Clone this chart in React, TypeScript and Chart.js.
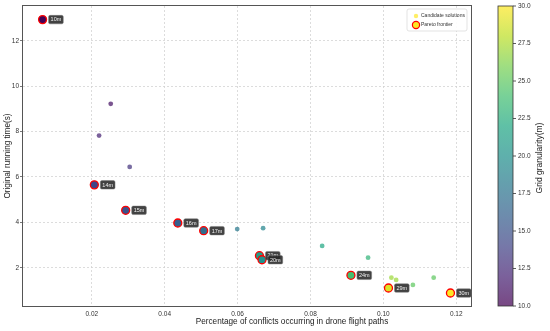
import React, { useEffect, useRef } from 'react';
import { Chart, registerables } from 'chart.js';

Chart.register(...registerables);

const FONT = '"Liberation Sans", Arial, Helvetica, sans-serif';

// Pareto frontier solutions
const paretoLabels = ['10m', '14m', '15m', '16m', '17m', '21m', '20m', '24m', '29m', '30m'];
const paretoGrid = [10, 14, 15, 16, 17, 21, 20, 24, 29, 30];
const paretoConflict = [0.0065, 0.0207, 0.0293, 0.0436, 0.0507, 0.066, 0.0667, 0.0911, 0.1014, 0.1184];
const paretoTime = [12.93, 5.65, 4.53, 3.97, 3.63, 2.53, 2.35, 1.665, 1.105, 0.885];

// Candidate solutions
const candGrid = [11, 12, 13, 18, 19, 22, 23, 27, 27, 25, 25];
const candConflict = [0.0252, 0.022, 0.0304, 0.0599, 0.067, 0.0832, 0.0958, 0.1022, 0.1035, 0.1081, 0.1138];
const candTime = [9.22, 7.82, 6.44, 3.7, 3.74, 2.96, 2.44, 1.56, 1.46, 1.24, 1.56];

const xTicks = [0.02, 0.04, 0.06, 0.08, 0.1, 0.12];
const yTicks = [2, 4, 6, 8, 10, 12];
const cbTicks = [10, 12.5, 15, 17.5, 20, 22.5, 25, 27.5, 30];

const X_TITLE = 'Percentage of conflicts occurring in drone flight paths';
const Y_TITLE = 'Original running time(s)';
const CB_TITLE = 'Grid granularity(m)';

const X_MIN = 0.00113;
const X_MAX = 0.12404;
const Y_MIN = 0.313;
const Y_MAX = 13.53;
const C_MIN = 10;
const C_MAX = 30;

const viridisStops = ['#440154', '#482475', '#414487', '#355f8d', '#2a788e', '#21918c', '#22a884', '#44bf70', '#7ad151', '#bddf26', '#fde725'];

function hexToRgb(h: string) {
  return [parseInt(h.slice(1, 3), 16), parseInt(h.slice(3, 5), 16), parseInt(h.slice(5, 7), 16)];
}

function viridis(t: number, a: number) {
  const tt = Math.max(0, Math.min(1, t));
  const p = tt * 10;
  const i = Math.min(9, Math.floor(p));
  const f = p - i;
  const c0 = hexToRgb(viridisStops[i]);
  const c1 = hexToRgb(viridisStops[i + 1]);
  const c = c0.map((v, k) => Math.round(v + (c1[k] - v) * f));
  return `rgba(${c[0]},${c[1]},${c[2]},${a})`;
}

const colorOf = (g: number, a: number) => viridis((g - C_MIN) / (C_MAX - C_MIN), a);

const decorPlugin = {
  id: 'decor',
  afterDatasetsDraw(chart: any) {
    const { ctx, chartArea: ca } = chart;
    ctx.save();

    // plot frame
    ctx.strokeStyle = '#555';
    ctx.lineWidth = 1;
    ctx.setLineDash([]);
    ctx.strokeRect(Math.round(ca.left) - 0.5, Math.round(ca.top) - 0.5, Math.round(ca.right - ca.left) + 1, Math.round(ca.bottom - ca.top) + 1);

    // point labels for pareto frontier
    const meta = chart.getDatasetMeta(1);
    ctx.font = `5.5px ${FONT}`;
    ctx.textBaseline = 'middle';
    ctx.textAlign = 'left';
    meta.data.forEach((el: any, i: number) => {
      const txt = paretoLabels[i];
      const w = ctx.measureText(txt).width + 4;
      const h = 8.5;
      const bx = el.x + 6;
      const by = el.y - h / 2;
      ctx.fillStyle = 'rgba(40,40,40,0.88)';
      ctx.strokeStyle = 'rgba(120,120,120,0.9)';
      ctx.lineWidth = 0.5;
      ctx.beginPath();
      ctx.roundRect(bx, by, w, h, 1.5);
      ctx.fill();
      ctx.stroke();
      ctx.fillStyle = '#f0f0f0';
      ctx.fillText(txt, bx + 2, el.y + 0.3);
    });

    // legend
    const lw = 60;
    const lh = 22;
    const lx = ca.right - lw - 4;
    const ly = ca.top + 3;
    ctx.fillStyle = 'rgba(255,255,255,0.9)';
    ctx.strokeStyle = '#dcdcdc';
    ctx.lineWidth = 0.8;
    ctx.beginPath();
    ctx.roundRect(lx, ly, lw, lh, 2);
    ctx.fill();
    ctx.stroke();
    ctx.font = `5px ${FONT}`;
    ctx.fillStyle = colorOf(30, 0.7);
    ctx.beginPath();
    ctx.arc(lx + 9, ly + 7, 2.2, 0, Math.PI * 2);
    ctx.fill();
    ctx.fillStyle = colorOf(30, 1);
    ctx.strokeStyle = '#ff0000';
    ctx.lineWidth = 1.2;
    ctx.beginPath();
    ctx.arc(lx + 9, ly + 16, 3.6, 0, Math.PI * 2);
    ctx.fill();
    ctx.stroke();
    ctx.fillStyle = '#333';
    ctx.fillText('Candidate solutions', lx + 14, ly + 7);
    ctx.fillText('Pareto frontier', lx + 14, ly + 16);

    // x axis title
    ctx.font = `8.2px ${FONT}`;
    ctx.textAlign = 'center';
    ctx.textBaseline = 'middle';
    ctx.fillStyle = '#222';
    ctx.fillText(X_TITLE, 292, 322);

    // colorbar
    const cb = chart.scales.cb;
    const x0 = cb.left + 27;
    const w = 15;
    const top = cb.getPixelForValue(C_MAX);
    const bottom = cb.getPixelForValue(C_MIN);
    const grad = ctx.createLinearGradient(0, bottom, 0, top);
    for (let k = 0; k <= 20; k++) {
      grad.addColorStop(k / 20, viridis(k / 20, 0.72));
    }
    ctx.fillStyle = grad;
    ctx.fillRect(x0, top, w, bottom - top);
    ctx.strokeStyle = '#333';
    ctx.lineWidth = 0.8;
    ctx.strokeRect(x0, top, w, bottom - top);
    ctx.beginPath();
    cbTicks.forEach((v) => {
      const py = cb.getPixelForValue(v);
      ctx.moveTo(x0 + w, py);
      ctx.lineTo(x0 + w + 3, py);
    });
    ctx.stroke();

    // colorbar title
    ctx.translate(540, 158);
    ctx.rotate(-Math.PI / 2);
    ctx.font = `8.5px ${FONT}`;
    ctx.textAlign = 'center';
    ctx.textBaseline = 'middle';
    ctx.fillStyle = '#222';
    ctx.fillText(CB_TITLE, 0, 0);
    ctx.restore();
  },
};

const noPad = (s: any) => {
  s.paddingTop = 0;
  s.paddingBottom = 0;
  s.paddingLeft = 0;
  s.paddingRight = 0;
};

export default function App() {
  const ref = useRef<HTMLCanvasElement | null>(null);

  useEffect(() => {
    if (!ref.current) return;
    const gridCommon = {
      color: '#d4d4d4',
      lineWidth: 0.8,
      tickLength: 3,
      tickWidth: 0.8,
      tickBorderDash: [],
    };
    const chart = new Chart(ref.current, {
      type: 'scatter',
      data: {
        datasets: [
          {
            label: 'Candidate solutions',
            data: candConflict.map((x, i) => ({ x, y: candTime[i] })),
            backgroundColor: candGrid.map((g) => colorOf(g, 0.72)),
            borderWidth: 0,
            pointRadius: 2.4,
            yAxisID: 'y',
            xAxisID: 'x',
            order: 1,
          },
          {
            label: 'Pareto frontier',
            data: paretoConflict.map((x, i) => ({ x, y: paretoTime[i] })),
            backgroundColor: paretoGrid.map((g) => colorOf(g, 1)),
            borderColor: '#ff0000',
            borderWidth: 1.3,
            pointRadius: 4,
            yAxisID: 'y',
            xAxisID: 'x',
            order: 0,
          },
        ],
      },
      options: {
        animation: false,
        responsive: false,
        events: [],
        layout: { padding: { top: 6, left: 0, right: 0, bottom: 0 } },
        plugins: {
          legend: { display: false },
          tooltip: { enabled: false },
        },
        scales: {
          x: {
            type: 'linear',
            min: X_MIN,
            max: X_MAX,
            afterBuildTicks: (s: any) => {
              s.ticks = xTicks.map((v) => ({ value: v }));
            },
            afterFit: (s: any) => {
              s.height = 25;
              noPad(s);
            },
            ticks: {
              callback: (v: any) => Number(v).toFixed(2),
              font: { size: 6.5, family: FONT },
              color: '#333',
              padding: 1.2,
              maxRotation: 0,
              autoSkip: false,
            },
            grid: { ...gridCommon, tickColor: 'rgba(0,0,0,0)' },
            border: { display: false, dash: [2, 2] },
            title: { display: false },
          },
          y: {
            type: 'linear',
            position: 'left',
            min: Y_MIN,
            max: Y_MAX,
            afterBuildTicks: (s: any) => {
              s.ticks = yTicks.map((v) => ({ value: v }));
            },
            afterFit: (s: any) => {
              s.width = 23;
              noPad(s);
            },
            ticks: {
              callback: (v: any) => String(v),
              font: { size: 6.5, family: FONT },
              color: '#333',
              padding: 1,
              autoSkip: false,
            },
            grid: { ...gridCommon, tickColor: '#555' },
            border: { display: false, dash: [2, 2] },
            title: {
              display: true,
              text: Y_TITLE,
              font: { size: 8.2, family: FONT },
              color: '#222',
              padding: { top: 3, bottom: 0 },
            },
          },
          cb: {
            type: 'linear',
            axis: 'y',
            position: 'right',
            min: C_MIN,
            max: C_MAX,
            afterBuildTicks: (s: any) => {
              s.ticks = cbTicks.map((v) => ({ value: v }));
            },
            afterFit: (s: any) => {
              s.width = 79;
              noPad(s);
            },
            ticks: {
              callback: (v: any) => Number(v).toFixed(1),
              font: { size: 6.5, family: FONT },
              color: '#333',
              padding: 47,
              autoSkip: false,
            },
            grid: { display: false, drawTicks: false },
            border: { display: false },
          },
        },
      },
      plugins: [decorPlugin],
    } as any);
    return () => chart.destroy();
  }, []);

  return (
    <div style={{ position: 'fixed', left: 0, top: 0, width: 550, height: 331, background: '#fff' }}>
      <canvas ref={ref} width={550} height={331} style={{ display: 'block', width: 550, height: 331 }} />
    </div>
  );
}
